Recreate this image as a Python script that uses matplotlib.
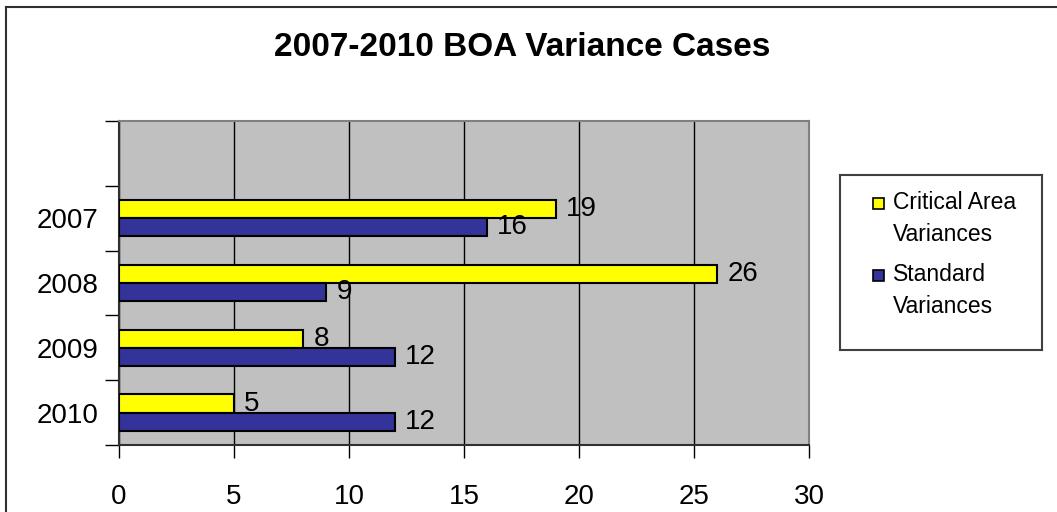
import numpy as np
import matplotlib
matplotlib.use("Agg")
from matplotlib import pyplot as plt
from matplotlib.patches import Rectangle

# data
years = ["", "2007", "2008", "2009", "2010"]
critical = [np.nan, 19, 26, 8, 5]
standard = [np.nan, 16, 9, 12, 12]
series_names = ["Critical Area\nVariances", "Standard\nVariances"]
title = "2007-2010 BOA Variance Cases"

yellow = "#FFFF00"
navy = "#333399"
W, H = 1057, 512

plt.rcParams['font.family'] = ['Liberation Sans', 'DejaVu Sans']

fig = plt.figure(figsize=(W / 100, H / 100), dpi=100)
ax = fig.add_axes([119 / W, 1 - 445 / H, 690 / W, 324 / H])
ax.set_facecolor("#C0C0C0")

pos = np.arange(len(years))
bh = 0.28
ax.barh(pos - bh / 2, critical, height=bh, color=yellow, edgecolor="black", linewidth=1.5, zorder=3)
ax.barh(pos + bh / 2, standard, height=bh, color=navy, edgecolor="black", linewidth=1.5, zorder=3)

for i in range(len(years)):
    if not np.isnan(critical[i]):
        ax.text(critical[i] + 0.45, pos[i] - bh / 2, f"{critical[i]:g}", va="center", ha="left", fontsize=20, zorder=4)
    if not np.isnan(standard[i]):
        ax.text(standard[i] + 0.45, pos[i] + bh / 2, f"{standard[i]:g}", va="center", ha="left", fontsize=20, zorder=4)

ax.set_xlim(0, 30)
ax.set_ylim(len(years) - 0.5, -0.5)
ax.set_xticks(np.arange(0, 31, 5))
ax.tick_params(axis="x", length=9, width=1, pad=19, labelsize=20, colors="black")
ax.xaxis.grid(True, color="black", linewidth=1)
ax.set_axisbelow(True)

# category boundaries get the tick marks, labels sit between them
ax.set_yticks(np.arange(len(years) + 1) - 0.5)
ax.set_yticklabels([])
ax.set_yticks(pos, minor=True)
ax.set_yticklabels(years, minor=True)
ax.tick_params(axis="y", which="major", length=10, width=1)
ax.tick_params(axis="y", which="minor", length=0, pad=15, labelsize=20)

for s in ["top", "right"]:
    ax.spines[s].set_color("#808080")
    ax.spines[s].set_linewidth(1.5)
for s in ["left", "bottom"]:
    ax.spines[s].set_color("#303030")
    ax.spines[s].set_linewidth(1.5)

fig.text(522 / W, 1 - 47 / H, title, ha="center", va="center", fontsize=24, fontweight="bold")

# legend drawn by hand
lx0, ly0, lw, lh = 840, 175, 202, 175
lax = fig.add_axes([lx0 / W, 1 - (ly0 + lh) / H, lw / W, lh / H])
lax.set_xlim(0, lw)
lax.set_ylim(lh, 0)
lax.set_xticks([])
lax.set_yticks([])
for s in lax.spines.values():
    s.set_color("#404040")
    s.set_linewidth(1.5)
for j, (name, col) in enumerate(zip(series_names, [yellow, navy])):
    ytop = 20 + j * 72
    lax.add_patch(Rectangle((33, ytop + 3), 11, 11, facecolor=col, edgecolor="black", linewidth=1.2))
    lax.text(53, ytop - 4, name, ha="left", va="top", fontsize=16.5, linespacing=1.5)

# outer chart border (left and top visible)
fig.add_artist(plt.Line2D([6 / W, 6 / W], [0, 1 - 7 / H], color="#303030", linewidth=1.5))
fig.add_artist(plt.Line2D([6 / W, 1], [1 - 7 / H, 1 - 7 / H], color="#303030", linewidth=1.5))

fig.savefig("out.png", dpi=100)
